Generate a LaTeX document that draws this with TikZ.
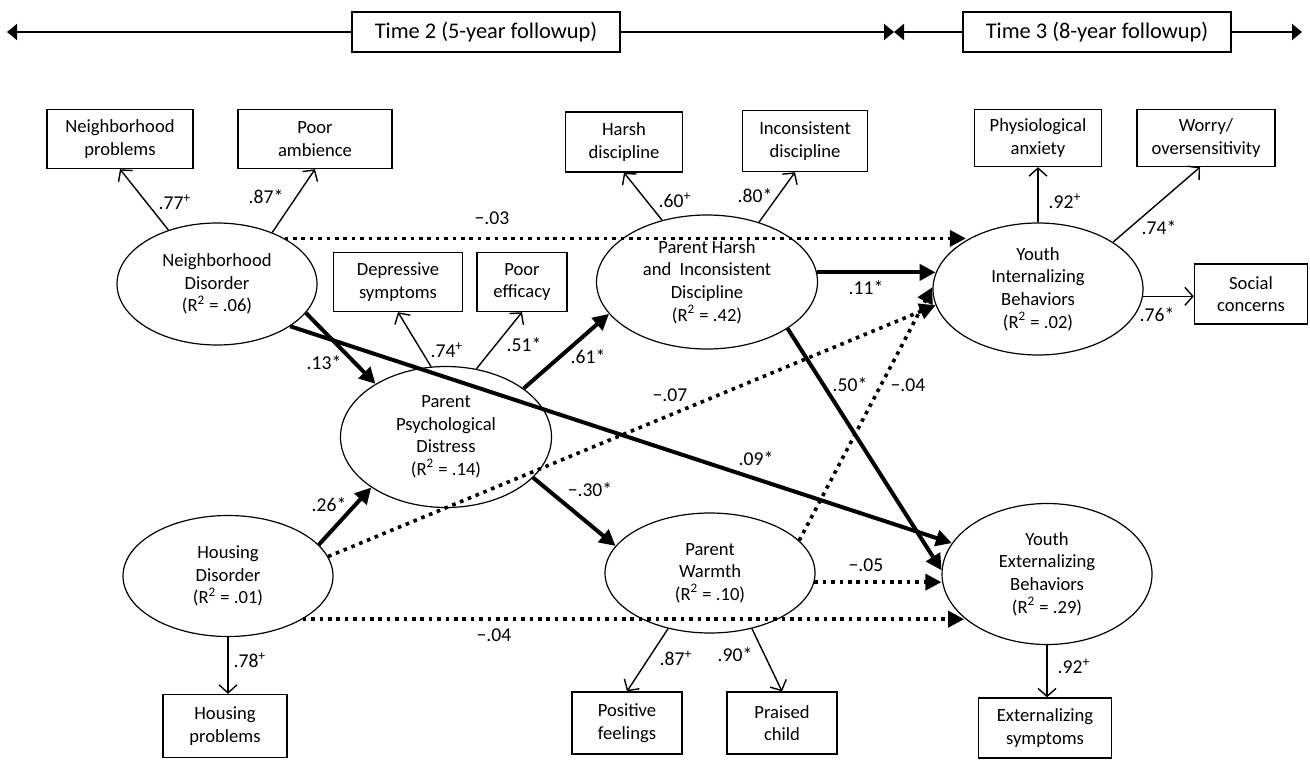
\documentclass[tikz,border=0pt]{standalone}
\usepackage{fontspec}
\setmainfont{Carlito}
\usetikzlibrary{shapes.geometric, arrows.meta, calc}

\begin{document}
\begin{tikzpicture}[
  x=0.5pt, y=-0.5pt,
  every node/.style={font=\fontsize{9.3}{11.3}\selectfont},
  box/.style={rectangle, draw, line width=0.7pt, minimum height=29.5pt, align=center, inner sep=1pt},
  latent/.style={ellipse, draw, line width=0.6pt, align=center, inner sep=0pt},
  load/.style={-{Straight Barb[length=4pt, width=9pt]}, line width=0.7pt},
  sig/.style={-{Triangle[length=8pt, width=8pt]}, line width=2pt},
  nonsig/.style={sig, line width=1.8pt, dash pattern=on 1.8pt off 2.4pt},
  timeline/.style={line width=0.9pt},
  timebox/.style={box, fill=white, minimum width=134pt, minimum height=20pt, font=\fontsize{11.2}{13}\selectfont},
  coef/.style={inner sep=0pt, font=\fontsize{9.8}{12}\selectfont},
]

\useasboundingbox (0,0) rectangle (1310,760);

% Time line
\node[timebox] (t2) at (486,32) {Time 2 (5-year followup)};
\node[timebox] (t3) at (1097,32) {Time 3 (8-year followup)};
\coordinate (tl) at (7,32);
\coordinate (tm) at (894,32);
\coordinate (tr) at (1302,32);
\draw[timeline, {Triangle[length=5pt, width=8pt]}-] (tl) -- (t2);
\draw[timeline, -{Triangle[length=5pt, width=8pt]}] (t2) -- (tm);
\draw[timeline, {Triangle[length=5pt, width=8pt]}-] (tm) -- (t3);
\draw[timeline, -{Triangle[length=5pt, width=8pt]}] (t3) -- (tr);

% Latent variables
\node[latent, minimum width=100pt, minimum height=61pt] (nd) at (217,284) {Neighborhood\\Disorder\\(R\textsuperscript{2} = .06)};
\node[latent, minimum width=105.5pt, minimum height=70.5pt] (pd) at (446,437) {Parent\\Psychological\\Distress\\(R\textsuperscript{2} = .14)};
\node[latent, minimum width=105pt, minimum height=60.5pt] (hd) at (228,576) {Housing\\Disorder\\(R\textsuperscript{2} = .01)};
\node[latent, minimum width=110.5pt, minimum height=67pt] (ph) at (707,282) {Parent Harsh\\and~~Inconsistent\\Discipline\\(R\textsuperscript{2} = .42)};
\node[latent, minimum width=105pt, minimum height=60pt] (pw) at (710,573) {Parent\\Warmth\\(R\textsuperscript{2} = .10)};
\node[latent, minimum width=105pt, minimum height=66pt] (yi) at (1038,289) {Youth\\Internalizing\\Behaviors\\(R\textsuperscript{2} = .02)};
\node[latent, minimum width=105pt, minimum height=70.5pt] (ye) at (1047,574) {Youth\\Externalizing\\Behaviors\\(R\textsuperscript{2} = .29)};

% Indicators
\node[box, minimum width=73pt] (np) at (120,139) {Neighborhood\\problems};
\node[box, minimum width=77pt] (pa) at (315,139) {Poor\\ambience};
\node[box, minimum width=64.5pt] (ds) at (398,282) {Depressive\\symptoms};
\node[box, minimum width=45pt] (pe) at (522,282) {Poor\\efficacy};
\node[box, minimum width=58.5pt, minimum height=30pt] (hs) at (624,142) {Harsh\\discipline};
\node[box, minimum width=62.5pt, minimum height=30.5pt] (ic) at (805,141) {Inconsistent\\discipline};
\node[box, minimum width=63.5pt, minimum height=28.5pt] (ya) at (1038,138) {Physiological\\anxiety};
\node[box, minimum width=69pt, minimum height=28.5pt] (wo) at (1206,138) {Worry/\\oversensitivity};
\node[box, minimum width=56.5pt, minimum height=30pt] (sc) at (1251,294) {Social\\concerns};
\node[box, minimum width=62pt, minimum height=31.5pt] (hp) at (225,726) {Housing\\problems};
\node[box, minimum width=55pt, minimum height=31pt] (pf) at (627,723) {Positive\\feelings};
\node[box, minimum width=55pt, minimum height=31pt] (pc) at (782,723) {Praised\\child};
\node[box, minimum width=66.5pt, minimum height=30pt] (es) at (1045,728) {Externalizing\\symptoms};

% Loadings
\draw[load] (nd.132) -- (np.south);
\draw[load] (nd.43) -- (pa.south);
\draw[load] (pd.102) -- (ds.south);
\draw[load] (pd.66) -- (pe.south);
\draw[load] (ph.126) -- (hs.south);
\draw[load] (ph.49) -- ([xshift=-5pt]ic.south);
\draw[load] (yi.north) -- (ya.south);
\draw[load] (yi.32) -- ([xshift=-3pt]wo.south);
\draw[load] (yi.-4) -- (yi.-4 -| sc.west);
\draw[load] (hd.south) -- (hd.south |- hp.north);
\draw[load] (pw.233) -- (pf.north);
\draw[load] (pw.-53) -- (pc.north);
\draw[load] (ye.south) -- (ye.south |- es.north);

% Paths
\draw[sig] (nd.-18) -- (pd.143);
\draw[sig] (nd.-30) -- (ye.162);
\draw[nonsig] (nd.34) -- (nd.34 -| yi.146);
\draw[sig] (pd.32) -- (ph.198);
\draw[sig] (pd.-25) -- (pw.164);
\draw[sig] (hd.19) -- (pd.214);
\draw[nonsig] (hd.11) -- (yi.189);
\draw[nonsig] (hd.-30) -- (hd.-30 -| ye.208);
\draw[sig] (ph.5) -- (ph.5 -| yi.171);
\draw[sig] (ph.-30) -- (ye.178);
\draw[nonsig] (pw.20) -- (yi.179);
\draw[nonsig] (pw.-5) -- (pw.-5 -| ye.west);

% Coefficients
\node[coef] (c77) at (175,202) {.77\textsuperscript{+}};
\node[coef] (c87) at (266,197) {.87*};
\node[coef] (c74p) at (447,350) {.74\textsuperscript{+}};
\node[coef] (c51) at (524,345) {.51*};
\node[coef] (c60) at (675,200) {.60\textsuperscript{+}};
\node[coef] (c80) at (755,196) {.80*};
\node[coef] (c92i) at (1065,201) {.92\textsuperscript{+}};
\node[coef] (c74) at (1159,228) {.74*};
\node[coef] (c76) at (1157,315) {.76*};
\node[coef] (c78) at (250,660) {.78\textsuperscript{+}};
\node[coef] (c87p) at (676,658) {.87\textsuperscript{+}};
\node[coef] (c90) at (735,655) {.90*};
\node[coef] (c92e) at (1074,666) {.92\textsuperscript{+}};

\node[coef] (c03) at (492,218) {−.03};
\node[coef] (c13) at (324,363) {.13*};
\node[coef] (c61) at (588,357) {.61*};
\node[coef] (c26) at (329,505) {.26*};
\node[coef] (c30) at (590,490) {−.30*};
\node[coef] (c07) at (670,395) {−.07};
\node[coef] (c09) at (756,459) {.09*};
\node[coef] (c11) at (866,288) {.11*};
\node[coef] (c50) at (850,385) {.50*};
\node[coef] (c04i) at (908,385) {−.04};
\node[coef] (c05) at (866,565) {−.05};
\node[coef] (c04e) at (494,635) {−.04};

\end{tikzpicture}
\end{document}
